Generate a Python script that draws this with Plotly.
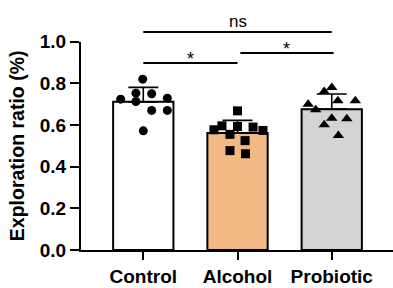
import numpy as np
import plotly.graph_objects as go

categories = ["Control", "Alcohol", "Probiotic"]
control = [0.82, 0.724, 0.753, 0.750, 0.713, 0.729, 0.670, 0.670, 0.572]
alcohol = [0.668, 0.577, 0.596, 0.593, 0.590, 0.574, 0.555, 0.525, 0.477, 0.462]
probiotic = [0.780, 0.761, 0.716, 0.716, 0.700, 0.673, 0.633, 0.630, 0.601, 0.550]
# horizontal scatter offsets of the dots (category units)
control_jit = [-0.006, -0.24, -0.078, 0.089, -0.078, 0.255, 0.089, 0.255, 0.0]
alcohol_jit = [0.0, -0.25, -0.165, 0.0, 0.165, 0.27, -0.08, 0.08, -0.08, 0.085]
probiotic_jit = [0.0, -0.08, 0.065, 0.25, -0.25, -0.17, 0.0, 0.16, -0.08, 0.07]
y_ticks = [0.0, 0.2, 0.4, 0.6, 0.8, 1.0]
comparisons = [  # (x0, x1, y, label)
    (0.0, 2.0, 1.047, "ns"),
    (0.0, 1.0, 0.898, "*"),
    (1.03, 2.02, 0.946, "*"),
]

groups = [control, alcohol, probiotic]
jits = [control_jit, alcohol_jit, probiotic_jit]
means = [float(np.mean(g)) for g in groups]
sds = [float(np.std(g, ddof=1)) for g in groups]
fills = ["#FFFFFF", "#F3B984", "#D4D4D4"]
symbols = ["circle", "square", "triangle-up"]
xs = list(range(len(categories)))

fig = go.Figure()
fig.add_trace(go.Bar(
    x=xs, y=means, width=0.64,
    marker=dict(color=fills, line=dict(color="black", width=2)),
    error_y=dict(type="data", symmetric=False, array=sds, arrayminus=[0] * 3,
                 color="black", thickness=1.6, width=15),
    showlegend=False, hoverinfo="skip",
))
for i, (g, j) in enumerate(zip(groups, jits)):
    fig.add_trace(go.Scatter(
        x=[i + d for d in j], y=g, mode="markers",
        marker=dict(symbol=symbols[i], size=9 if i < 2 else 10, color="black",
                    line=dict(width=0)),
        showlegend=False, cliponaxis=False, hoverinfo="skip",
    ))

R = 1.2
for x0, x1, y, lab in comparisons:
    fig.add_trace(go.Scatter(x=[x0, x1], y=[y, y], mode="lines", yaxis="y2",
                             line=dict(color="black", width=2), showlegend=False,
                             hoverinfo="skip"))
    fig.add_annotation(x=(x0 + x1) / 2, y=y, xref="x", yref="y2", text=lab,
                       showarrow=False, yanchor="bottom",
                       yshift=(-1 if lab == "ns" else -8),
                       font=dict(family="Liberation Sans, Arial", size=17 if lab == "ns" else 18,
                                 color="black"))

fig.update_layout(
    width=393, height=288,
    margin=dict(l=81, r=0, t=0, b=38),
    plot_bgcolor="rgba(0,0,0,0)", paper_bgcolor="white",
    font=dict(family="Liberation Sans, Arial", color="black"),
    xaxis=dict(range=[-0.661, 2.65], tickvals=xs, ticktext=categories,
               showline=True, linewidth=2, linecolor="black",
               ticks="outside", ticklen=8, tickwidth=2, tickcolor="black",
               showgrid=False, zeroline=False, anchor="y", automargin=False,
               tickfont=dict(size=19, weight="bold")),
    yaxis=dict(domain=[0, 1 / R], range=[0, 1.0], tickvals=y_ticks,
               ticktext=[f"{v:.1f}" for v in y_ticks],
               showline=True, linewidth=2, linecolor="black",
               ticks="outside", ticklen=9, tickwidth=2, tickcolor="black",
               showgrid=False, zeroline=False, automargin=False,
               tickfont=dict(size=19, weight="bold"),
               title=dict(text="Exploration ratio (%)", standoff=10,
                          font=dict(size=19.5, weight="bold"))),
    yaxis2=dict(domain=[0, 1], range=[0, R], visible=False, anchor="x",
                automargin=False),
)
fig.write_html("out.html", config={"displayModeBar": False, "staticPlot": True},
               post_script="document.body.style.margin='0px';document.body.style.overflow='hidden';")
